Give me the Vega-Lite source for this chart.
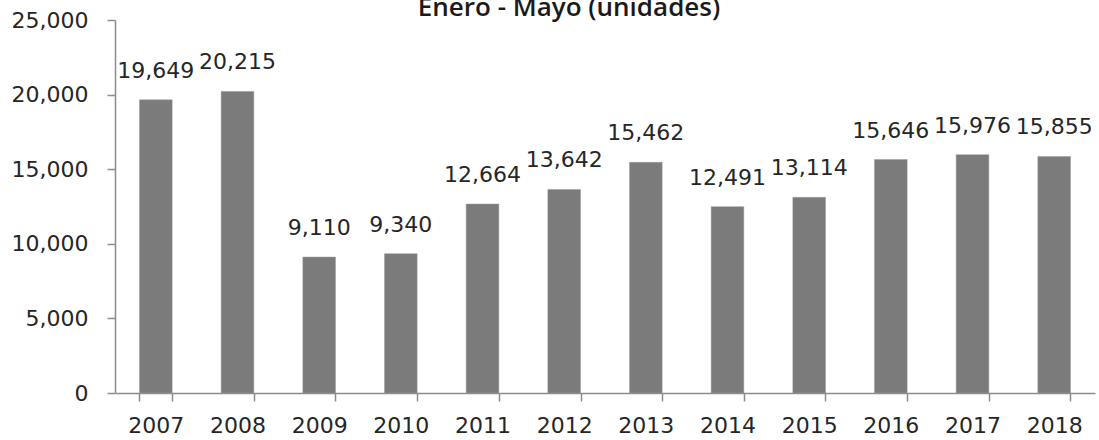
{
  "$schema": "https://vega.github.io/schema/vega-lite/v6.json",
  "width": 980,
  "height": 373,
  "autosize": {"type": "none"},
  "padding": {"left": 115, "top": 20, "right": 4, "bottom": 47},
  "background": "white",
  "title": {
    "text": "Enero - Mayo (unidades)",
    "font": "Open Sans",
    "fontSize": 26,
    "fontWeight": 600,
    "color": "#1a1a1a",
    "anchor": "middle",
    "frame": "group",
    "dx": -36,
    "offset": -33,
    "baseline": "alphabetic"
  },
  "data": {
    "values": [
      {"year": "2007", "units": 19649},
      {"year": "2008", "units": 20215},
      {"year": "2009", "units": 9110},
      {"year": "2010", "units": 9340},
      {"year": "2011", "units": 12664},
      {"year": "2012", "units": 13642},
      {"year": "2013", "units": 15462},
      {"year": "2014", "units": 12491},
      {"year": "2015", "units": 13114},
      {"year": "2016", "units": 15646},
      {"year": "2017", "units": 15976},
      {"year": "2018", "units": 15855}
    ]
  },
  "encoding": {
    "x": {
      "field": "year",
      "type": "ordinal",
      "scale": {"paddingInner": 0.6, "paddingOuter": 0.3},
      "axis": {
        "title": null,
        "labelAngle": 0,
        "labelFont": "DejaVu Sans",
        "labelFontSize": 22,
        "labelColor": "#262626",
        "labelPadding": 14,
        "tickBand": "extent",
        "tickSize": 8,
        "tickColor": "#8c8c8c",
        "domainColor": "#8c8c8c",
        "domainWidth": 1.5,
        "tickWidth": 1.5,
        "grid": false
      }
    },
    "y": {
      "field": "units",
      "type": "quantitative",
      "scale": {"domain": [0, 25000], "nice": false},
      "axis": {
        "title": null,
        "values": [0, 5000, 10000, 15000, 20000, 25000],
        "format": ",.0f",
        "labelFont": "DejaVu Sans",
        "labelFontSize": 22,
        "labelColor": "#262626",
        "labelPadding": 19,
        "tickSize": 8,
        "tickColor": "#8c8c8c",
        "domainColor": "#8c8c8c",
        "domainWidth": 1.5,
        "tickWidth": 1.5,
        "grid": false
      }
    }
  },
  "layer": [
    {"mark": {"type": "bar", "color": "#7b7b7b", "stroke": "#9a9a9a", "strokeWidth": 0.5}},
    {
      "mark": {
        "type": "text",
        "baseline": "bottom",
        "dy": -17,
        "font": "DejaVu Sans",
        "fontSize": 22,
        "color": "#262626"
      },
      "encoding": {"text": {"field": "units", "type": "quantitative", "format": ",.0f"}}
    }
  ],
  "config": {"view": {"stroke": null}}
}
